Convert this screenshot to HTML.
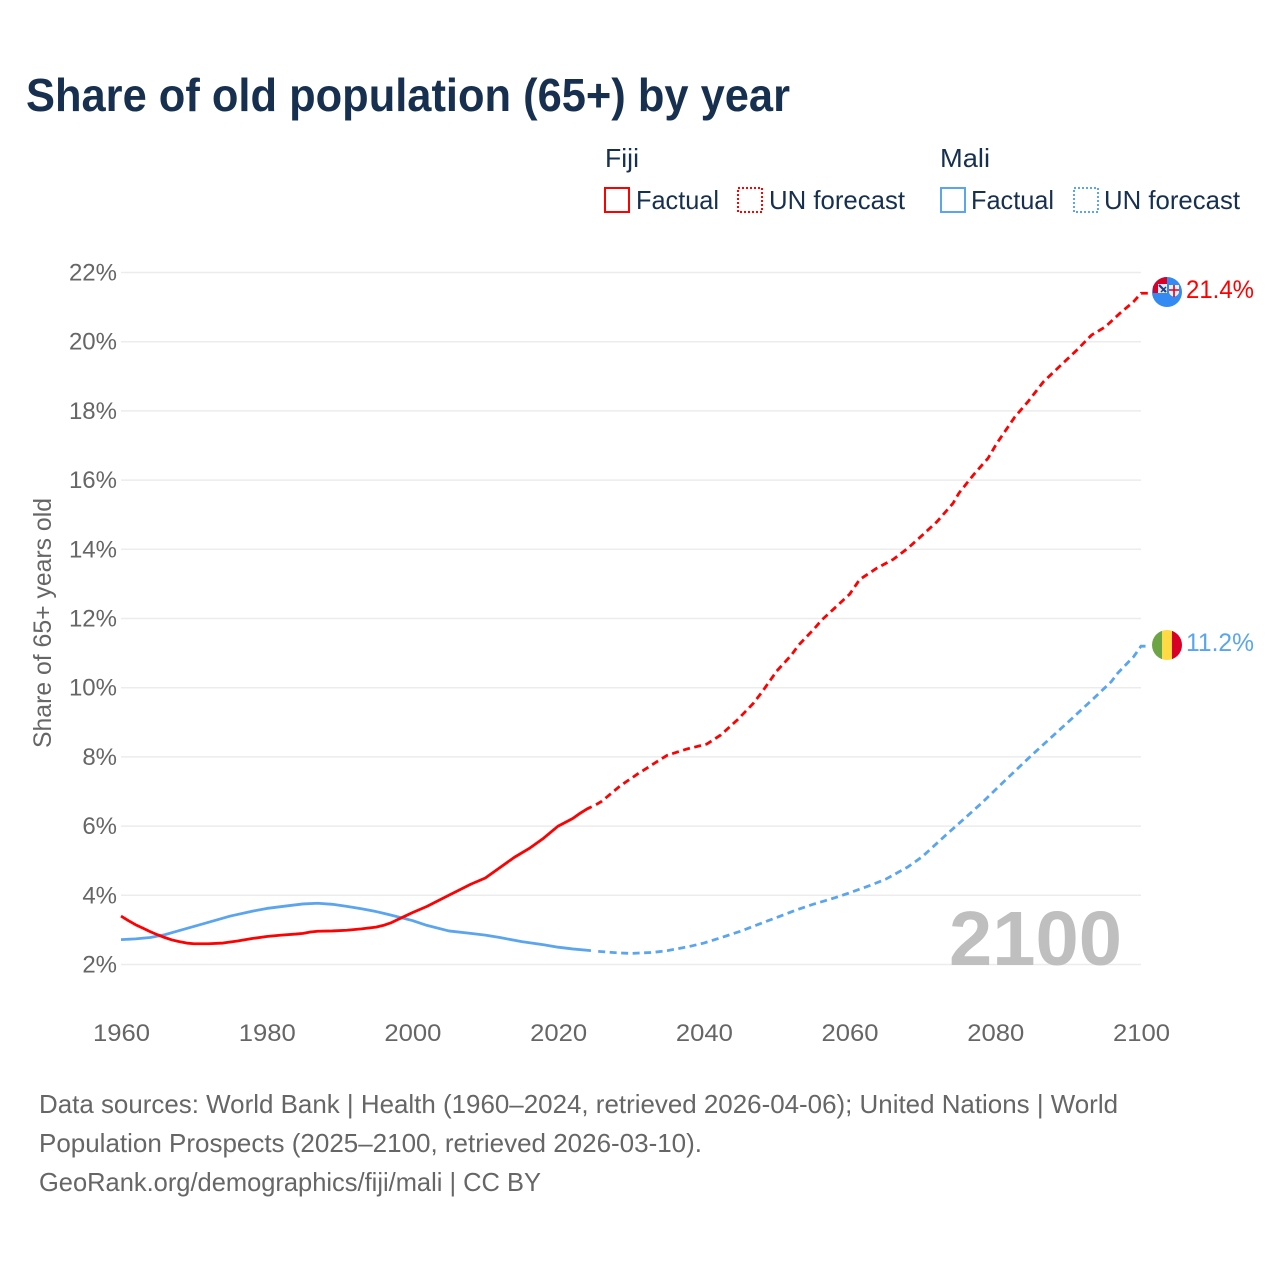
<!DOCTYPE html>
<html lang="en">
<head>
<meta charset="utf-8">
<title>Share of old population (65+) by year</title>
<style>
html,body{margin:0;padding:0;background:#fff}
svg{display:block;font-family:"Liberation Sans",sans-serif}
</style>
</head>
<body>
<svg id="chart" width="1280" height="1280" viewBox="0 0 1280 1280" xmlns="http://www.w3.org/2000/svg">
<rect width="1280" height="1280" fill="#fff"/>
<text x="26" y="111" font-size="46" font-weight="700" fill="#17304f" textLength="764" lengthAdjust="spacingAndGlyphs">Share of old population (65+) by year</text>

<g font-size="26" fill="#17304f">
<text x="605" y="167" textLength="34" lengthAdjust="spacingAndGlyphs">Fiji</text>
<text x="940" y="167" textLength="50" lengthAdjust="spacingAndGlyphs">Mali</text>
<g>
<rect x="605" y="188" width="24" height="24" fill="none" stroke="#ff0000" stroke-width="2"/>
<text x="636" y="209" textLength="83" lengthAdjust="spacingAndGlyphs">Factual</text>
</g>
<g>
<rect x="738" y="188" width="24" height="24" fill="none" stroke="#ff0000" stroke-width="2" stroke-dasharray="2 2"/>
<text x="769" y="209" textLength="136" lengthAdjust="spacingAndGlyphs">UN forecast</text>
</g>
<g>
<rect x="941" y="188" width="24" height="24" fill="none" stroke="#5aa5ee" stroke-width="2"/>
<text x="971" y="209" textLength="83" lengthAdjust="spacingAndGlyphs">Factual</text>
</g>
<g>
<rect x="1074" y="188" width="24" height="24" fill="none" stroke="#5aa5ee" stroke-width="2" stroke-dasharray="2 2"/>
<text x="1104" y="209" textLength="136" lengthAdjust="spacingAndGlyphs">UN forecast</text>
</g>
</g>

<text transform="translate(51 623) rotate(-90)" text-anchor="middle" font-size="25" fill="#666" textLength="250" lengthAdjust="spacingAndGlyphs">Share of 65+ years old</text>
<g id="grid"></g>
<g id="yticks"></g>
<g id="xticks"></g>
<text x="949" y="965" font-size="77" font-weight="700" fill="#bfbfbf" textLength="173" lengthAdjust="spacingAndGlyphs">2100</text>
<g id="lines"></g>

<defs>
<clipPath id="fiji-clip"><circle cx="1167" cy="292" r="15"/></clipPath>
<clipPath id="mali-clip"><circle cx="1167" cy="645" r="15"/></clipPath>
</defs>
<g clip-path="url(#fiji-clip)">
<rect x="1150" y="276" width="34" height="32" fill="#338af3"/>
<rect x="1153" y="276" width="14" height="17" fill="#d80027"/>
<rect x="1158" y="284" width="9" height="9" fill="#e6e9f2"/>
<path d="M1159 285l7 7" stroke="#1d3f8f" stroke-width="2.2"/>
<path d="M1161 292l5-5" stroke="#1d3f8f" stroke-width="1.5"/>
<path d="M1169 285h10v7q0 3-5 5q-5-2-5-5z" fill="#f0f0f0"/>
<path d="M1174 285v12M1169 290h10" stroke="#d80027" stroke-width="1.6"/>
</g>
<g clip-path="url(#mali-clip)">
<rect x="1152" y="630" width="10" height="30" fill="#6da544"/>
<rect x="1162" y="630" width="10" height="30" fill="#ffda44"/>
<rect x="1172" y="630" width="10" height="30" fill="#d80027"/>
</g>
<text x="1186" y="298" font-size="25" fill="#ff0000" textLength="68" lengthAdjust="spacingAndGlyphs">21.4%</text>
<text x="1186" y="651" font-size="25" fill="#5aa5ee" textLength="68" lengthAdjust="spacingAndGlyphs">11.2%</text>

<g font-size="26" fill="#666">
<text x="39" y="1113" textLength="1079" lengthAdjust="spacingAndGlyphs">Data sources: World Bank | Health (1960–2024, retrieved 2026-04-06); United Nations | World</text>
<text x="39" y="1152" textLength="663" lengthAdjust="spacingAndGlyphs">Population Prospects (2025–2100, retrieved 2026-03-10).</text>
<text x="39" y="1191" textLength="502" lengthAdjust="spacingAndGlyphs">GeoRank.org/demographics/fiji/mali | CC BY</text>
</g>

<script>
const yTicks = [2, 4, 6, 8, 10, 12, 14, 16, 18, 20, 22];
const xTicks = [1960, 1980, 2000, 2020, 2040, 2060, 2080, 2100];
const fijiFactualYears = [1960,1961,1962,1963,1964,1965,1966,1967,1968,1969,1970,1972,1974,1976,1978,1980,1982,1984,1985,1986,1987,1989,1991,1993,1995,1996,1997,1998,1999,2000,2002,2005,2008,2010,2012,2014,2016,2018,2020,2022,2023,2024,2024.6];
const fijiFactualValues = [3.4,3.27,3.15,3.05,2.95,2.86,2.78,2.71,2.66,2.62,2.6,2.6,2.62,2.68,2.75,2.81,2.85,2.88,2.9,2.94,2.96,2.97,2.99,3.03,3.08,3.13,3.2,3.3,3.4,3.5,3.68,4.0,4.32,4.5,4.8,5.1,5.35,5.65,6.0,6.22,6.37,6.5,6.56];
const fijiForecastYears = [2025.2,2026,2028.5,2031,2034,2035,2037.7,2040.4,2042.3,2044.6,2046.8,2048,2050,2052,2053,2055,2056.2,2060,2061.4,2063.7,2066,2068,2070,2072,2074.2,2075,2077,2079,2080.2,2082.7,2084.5,2086.6,2088.9,2091.2,2093.2,2095.1,2097.1,2099,2100];
const fijiForecastValues = [6.62,6.72,7.16,7.52,7.92,8.05,8.23,8.37,8.63,9.07,9.55,9.88,10.48,10.94,11.23,11.67,11.96,12.7,13.13,13.45,13.71,14.03,14.41,14.8,15.33,15.62,16.15,16.63,17.06,17.83,18.27,18.84,19.3,19.76,20.19,20.43,20.82,21.16,21.4];
const maliFactualYears = [1960,1962,1964,1966,1968,1970,1972,1975,1978,1980,1983,1985,1987,1989,1991,1993,1995,1997,2000,2002,2005,2008,2010,2012,2015,2018,2020,2022,2024.5];
const maliFactualValues = [2.72,2.74,2.78,2.86,2.98,3.1,3.22,3.4,3.54,3.62,3.7,3.75,3.77,3.74,3.68,3.61,3.53,3.43,3.27,3.13,2.97,2.9,2.85,2.78,2.66,2.57,2.5,2.45,2.4];
const maliForecastYears = [2025.5,2028,2030,2033,2035,2038,2040,2043,2045,2048,2050,2053,2055,2058,2060,2063,2065,2068,2070,2073,2075.3,2078.1,2080.6,2085,2089.8,2093.5,2095.9,2096.8,2099,2100];
const maliForecastValues = [2.38,2.34,2.32,2.35,2.4,2.52,2.62,2.82,2.96,3.2,3.36,3.6,3.74,3.93,4.07,4.3,4.47,4.82,5.12,5.7,6.13,6.66,7.17,8.05,8.97,9.69,10.17,10.42,10.9,11.2];
const tickSuffix = "%";

const NS = "http://www.w3.org/2000/svg";
const xScale = (year) => 121 + (year - 1960) * (1141 - 121) / 140;
const yScale = (value) => 964.5 - (value - 2) * (964.5 - 272.5) / 20;

function svgEl(tag, parent) {
  const el = document.createElementNS(NS, tag);
  parent.appendChild(el);
  return el;
}

const gridGroup = document.getElementById("grid");
const yTickGroup = document.getElementById("yticks");
yTicks.forEach((t) => {
  const line = svgEl("line", gridGroup);
  
  
  line.setAttribute("x1", 121);
  line.setAttribute("x2", 1141);
  line.setAttribute("y1", yScale(t));
  line.setAttribute("y2", yScale(t));
  line.setAttribute("stroke", "#ececec");
  line.setAttribute("stroke-width", 1.5);
  const label = svgEl("text", yTickGroup);
  
  
  label.setAttribute("x", 117);
  label.setAttribute("y", yScale(t) + 8);
  label.setAttribute("text-anchor", "end");
  label.setAttribute("font-size", 24);
  label.setAttribute("fill", "#666");
  label.textContent = t + tickSuffix;
});

const xTickGroup = document.getElementById("xticks");
xTicks.forEach((t) => {
  const label = svgEl("text", xTickGroup);
  
  
  label.setAttribute("x", xScale(t) - 28);
  label.setAttribute("y", 1041);
  label.setAttribute("font-size", 24);
  label.setAttribute("fill", "#666");
  label.setAttribute("textLength", 57);
  label.setAttribute("lengthAdjust", "spacingAndGlyphs");
  label.textContent = t;
});

const lineGroup = document.getElementById("lines");
function pathFrom(years, values) {
  return years.map((y, i) => (i ? "L" : "M") + xScale(y).toFixed(2) + " " + yScale(values[i]).toFixed(2)).join("");
}

const maliFactual = svgEl("path", lineGroup);


maliFactual.setAttribute("d", pathFrom(maliFactualYears, maliFactualValues));
maliFactual.setAttribute("fill", "none");
maliFactual.setAttribute("stroke", "#5aa5ee");
maliFactual.setAttribute("stroke-width", 2.8);
maliFactual.setAttribute("stroke-linejoin", "round");

const maliForecast = svgEl("path", lineGroup);


maliForecast.setAttribute("d", pathFrom(maliForecastYears, maliForecastValues) + "h9");
maliForecast.setAttribute("fill", "none");
maliForecast.setAttribute("stroke", "#5aa5ee");
maliForecast.setAttribute("stroke-width", 2.8);
maliForecast.setAttribute("stroke-dasharray", "7 4.5");

const fijiFactual = svgEl("path", lineGroup);


fijiFactual.setAttribute("d", pathFrom(fijiFactualYears, fijiFactualValues));
fijiFactual.setAttribute("fill", "none");
fijiFactual.setAttribute("stroke", "#ff0000");
fijiFactual.setAttribute("stroke-width", 2.8);
fijiFactual.setAttribute("stroke-linejoin", "round");

const fijiForecast = svgEl("path", lineGroup);


fijiForecast.setAttribute("d", pathFrom(fijiForecastYears, fijiForecastValues) + "h9");
fijiForecast.setAttribute("fill", "none");
fijiForecast.setAttribute("stroke", "#ff0000");
fijiForecast.setAttribute("stroke-width", 2.8);
fijiForecast.setAttribute("stroke-dasharray", "7 4.5");
</script>
</svg>
</body>
</html>
